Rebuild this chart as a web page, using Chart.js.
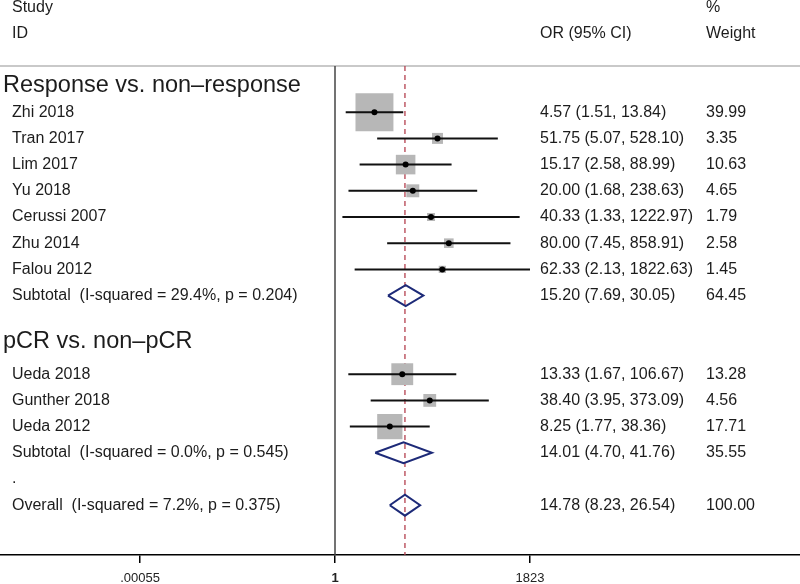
<!DOCTYPE html>
<html>
<head>
<meta charset="utf-8">
<script src="https://cdn.jsdelivr.net/npm/chart.js@4"></script>
<style>
  body { margin: 0; background: #fff; }
  #wrap { width: 800px; height: 584px; }
</style>
</head>
<body>
<div id="wrap"><canvas id="forest"></canvas></div>
<script>
// Study level data
const studies = ['Zhi 2018', 'Tran 2017', 'Lim 2017', 'Yu 2018', 'Cerussi 2007', 'Zhu 2014', 'Falou 2012', 'Ueda 2018', 'Gunther 2018', 'Ueda 2012'];
const studyGroup = [0, 0, 0, 0, 0, 0, 0, 1, 1, 1];
const oddsRatio = [4.57, 51.75, 15.17, 20.00, 40.33, 80.00, 62.33, 13.33, 38.40, 8.25];
const ciLow = [1.51, 5.07, 2.58, 1.68, 1.33, 7.45, 2.13, 1.67, 3.95, 1.77];
const ciHigh = [13.84, 528.10, 88.99, 238.63, 1222.97, 858.91, 1822.63, 106.67, 373.09, 38.36];
const weight = [39.99, 3.35, 10.63, 4.65, 1.79, 2.58, 1.45, 13.28, 4.56, 17.71];

// Subgroups and pooled estimates (last one is the overall)
const groups = ['Response vs. non\u2013response', 'pCR vs. non\u2013pCR'];
const pooledLabels = ['Subtotal  (I-squared = 29.4%, p = 0.204)', 'Subtotal  (I-squared = 0.0%, p = 0.545)', 'Overall  (I-squared = 7.2%, p = 0.375)'];
const pooledOR = [15.20, 14.01, 14.78];
const pooledLow = [7.69, 4.70, 8.23];
const pooledHigh = [30.05, 41.76, 26.54];
const pooledWeight = [64.45, 35.55, 100.00];

// Axis ticks
const xTicks = [0.00055, 1, 1823];
const xTickLabels = ['.00055', '1', '1823'];

// Build the row layout (one slot per text line)
const rows = [];
let slot = 0;
groups.forEach((g, gi) => {
  if (gi > 0) slot += 0.75;
  rows.push({ kind: 'header', text: g, slot: slot });
  slot += gi > 0 ? 1.25 : 1;
  studies.forEach((s, i) => {
    if (studyGroup[i] === gi) { rows.push({ kind: 'study', i: i, slot: slot }); slot++; }
  });
  rows.push({ kind: 'pooled', i: gi, slot: slot });
  slot++;
});
rows.push({ kind: 'note', text: '.', slot: slot });
slot++;
rows.push({ kind: 'pooled', i: 2, slot: slot });

const studyRows = rows.filter(r => r.kind === 'study');
const pooledRows = rows.filter(r => r.kind === 'pooled');

const ciData = [];
studyRows.forEach(r => {
  ciData.push({ x: ciLow[r.i], y: r.slot }, { x: ciHigh[r.i], y: r.slot }, { x: null, y: null });
});

const diamondHalf = 0.4;
const diamondData = [];
pooledRows.forEach(r => {
  const i = r.i;
  diamondData.push(
    { x: pooledLow[i], y: r.slot },
    { x: pooledOR[i], y: r.slot - diamondHalf },
    { x: pooledHigh[i], y: r.slot },
    { x: pooledOR[i], y: r.slot + diamondHalf },
    { x: pooledLow[i], y: r.slot },
    { x: null, y: null }
  );
});

const pointData = studyRows.map(r => ({ x: oddsRatio[r.i], y: r.slot, w: weight[r.i] }));

// Pixel geometry of the frame
const nullPx = 335, tickSpanPx = 195, rowTop = 86, rowStep = 26.2;
const decade = tickSpanPx / Math.log10(1823);
const fmt = v => v.toFixed(2);

const FONT = '"Liberation Sans", Arial, sans-serif';
const TEXT = '#1c1c1c';

const forestDecor = {
  id: 'forestDecor',
  beforeDatasetsDraw(chart) {
    const { ctx, chartArea, scales } = chart;
    ctx.save();
    // top rule
    ctx.strokeStyle = '#c9c9c9';
    ctx.lineWidth = 2;
    ctx.beginPath();
    ctx.moveTo(0, chartArea.top);
    ctx.lineTo(chart.width, chartArea.top);
    ctx.stroke();
    // null line at OR = 1
    const x1 = scales.x.getPixelForValue(1);
    ctx.strokeStyle = '#444';
    ctx.lineWidth = 1.5;
    ctx.beginPath();
    ctx.moveTo(x1, chartArea.top);
    ctx.lineTo(x1, chartArea.bottom);
    ctx.stroke();
    // overall estimate dashed line
    const xo = scales.x.getPixelForValue(pooledOR[2]);
    ctx.strokeStyle = '#b5404f';
    ctx.lineWidth = 1.3;
    ctx.setLineDash([5, 4]);
    ctx.beginPath();
    ctx.moveTo(xo, chartArea.top);
    ctx.lineTo(xo, chartArea.bottom);
    ctx.stroke();
    ctx.restore();
  },
  afterDraw(chart) {
    const { ctx, scales } = chart;
    const y = s => scales.y.getPixelForValue(s);
    ctx.save();
    ctx.fillStyle = TEXT;
    ctx.textBaseline = 'middle';
    ctx.textAlign = 'left';
    ctx.font = '16px ' + FONT;
    // column headers
    ctx.fillText('Study', 12, y(-3));
    ctx.fillText('ID', 12, y(-2));
    ctx.fillText('OR (95% CI)', 540, y(-2));
    ctx.fillText('%', 706, y(-3));
    ctx.fillText('Weight', 706, y(-2));
    rows.forEach(r => {
      const yy = y(r.slot);
      if (r.kind === 'header') {
        ctx.font = '23.5px ' + FONT;
        ctx.fillText(r.text, 3, yy);
        ctx.font = '16px ' + FONT;
      } else if (r.kind === 'study') {
        const i = r.i;
        ctx.fillText(studies[i], 12, yy);
        ctx.fillText(fmt(oddsRatio[i]) + ' (' + fmt(ciLow[i]) + ', ' + fmt(ciHigh[i]) + ')', 540, yy);
        ctx.fillText(fmt(weight[i]), 706, yy);
      } else if (r.kind === 'pooled') {
        const i = r.i;
        ctx.fillText(pooledLabels[i], 12, yy);
        ctx.fillText(fmt(pooledOR[i]) + ' (' + fmt(pooledLow[i]) + ', ' + fmt(pooledHigh[i]) + ')', 540, yy);
        ctx.fillText(fmt(pooledWeight[i]), 706, yy);
      } else {
        ctx.fillText(r.text, 12, yy);
      }
    });
    ctx.restore();
  }
};

new Chart(document.getElementById('forest'), {
  type: 'scatter',
  data: {
    datasets: [
      {
        label: 'Estimate',
        data: pointData,
        pointStyle: 'circle',
        pointRadius: 3,
        backgroundColor: '#000',
        borderWidth: 0,
        order: 0
      },
      {
        label: '95% CI',
        data: ciData,
        showLine: true,
        spanGaps: false,
        borderColor: '#111',
        borderWidth: 2,
        pointRadius: 0,
        order: 1
      },
      {
        label: 'Weight',
        data: pointData,
        pointStyle: 'rect',
        pointRadius: ctx => 6 * Math.sqrt(ctx.raw ? ctx.raw.w : 0) / Math.SQRT2,
        backgroundColor: '#b7b7b7',
        borderWidth: 0,
        order: 2
      },
      {
        label: 'Pooled',
        data: diamondData,
        showLine: true,
        spanGaps: false,
        borderColor: '#1d2a78',
        borderWidth: 2,
        pointRadius: 0,
        order: 3
      }
    ]
  },
  options: {
    responsive: true,
    maintainAspectRatio: false,
    animation: false,
    layout: { autoPadding: false, padding: { top: 66, left: 0, right: 0, bottom: 0 } },
    plugins: { legend: { display: false }, tooltip: { enabled: false } },
    scales: {
      x: {
        type: 'logarithmic',
        bounds: 'data',
        min: Math.pow(10, -nullPx / decade),
        max: Math.pow(10, (800 - nullPx) / decade),
        afterBuildTicks: s => { s.ticks = xTicks.map(v => ({ value: v })); },
        afterFit: s => { s.height = 29; },
        grid: { drawOnChartArea: false, drawTicks: true, tickLength: 8, color: '#000', lineWidth: 1.5 },
        border: { display: true, color: '#000', width: 1.5 },
        ticks: {
          autoSkip: false,
          maxRotation: 0,
          padding: 8,
          color: '#222',
          font: c => ({ family: FONT, size: 13, weight: c.index === 1 ? 'bold' : 'normal' }),
          callback: (v, i) => xTickLabels[i]
        }
      },
      y: {
        type: 'linear',
        display: false,
        reverse: true,
        min: (66 - rowTop) / rowStep,
        max: (555 - rowTop) / rowStep
      }
    }
  },
  plugins: [forestDecor]
});
</script>
</body>
</html>
